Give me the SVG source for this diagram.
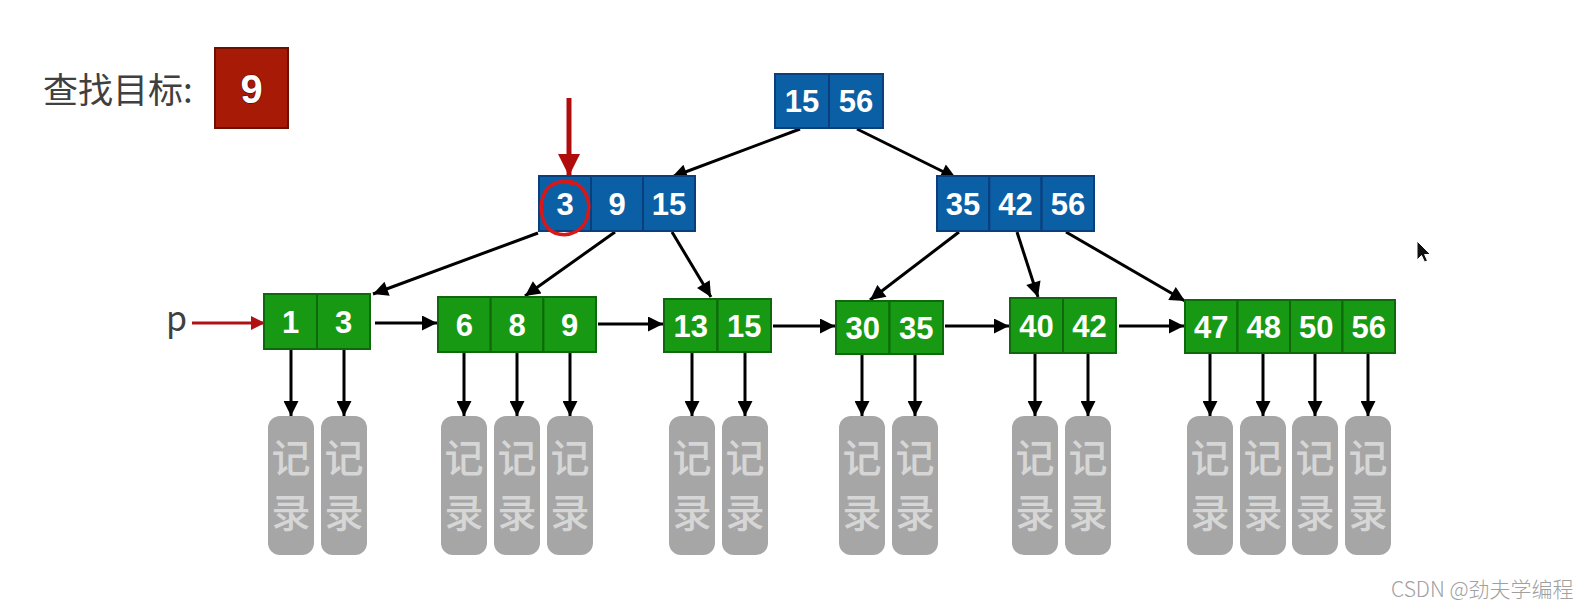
<svg xmlns="http://www.w3.org/2000/svg" width="1592" height="609" viewBox="0 0 1592 609">
<defs>
<style>
.bc{fill:#0b5fa5;stroke:#0a3e7c;stroke-width:2}
.gc{fill:#179913;stroke:#0d690b;stroke-width:2}
.num{font-family:"Liberation Sans",Arial,sans-serif;font-weight:bold;font-size:31px;fill:#fff;text-anchor:middle}
.rec rect{fill:#a6a6a6}
.rec text{font-family:"Noto Sans CJK SC",sans-serif;font-size:39px;font-weight:500;fill:#d6d6d6;text-anchor:middle}
.edge{stroke:#000;stroke-width:3;fill:none;marker-end:url(#ah)}
.lbl{font-family:"Noto Sans CJK SC",sans-serif;fill:#404040}
</style>
<marker id="ah" viewBox="0 0 10 10" refX="10" refY="5" markerUnits="userSpaceOnUse" markerWidth="16" markerHeight="15" orient="auto"><path d="M0,0 L10,5 L0,10 z" fill="#000"/></marker>
<marker id="rh" viewBox="0 0 10 10" refX="10" refY="5" markerUnits="userSpaceOnUse" markerWidth="16" markerHeight="14" orient="auto"><path d="M0,0 L10,5 L0,10 z" fill="#b01212"/></marker>
<marker id="rh2" viewBox="0 0 10 10" refX="10" refY="5" markerUnits="userSpaceOnUse" markerWidth="26" markerHeight="22" orient="auto"><path d="M0,0 L10,5 L0,10 z" fill="#b00c0c"/></marker>
</defs>
<rect width="1592" height="609" fill="#fff"/>

<g id="title">
<text class="lbl" x="43" y="103" font-size="35">查找目标:</text>
<rect x="215" y="48" width="73" height="80" fill="#a61a06" stroke="#6e1000" stroke-width="2"/>
<text x="251.5" y="102.5" font-family="Liberation Sans,Arial,sans-serif" font-weight="bold" font-size="40" fill="#fff" stroke="#5a0000" stroke-width="1.2" paint-order="stroke" text-anchor="middle">9</text>
</g>

<g id="connectors">
<line class="edge" x1="800" y1="129" x2="672" y2="177"/>
<line class="edge" x1="857" y1="129" x2="956" y2="178"/>
<line class="edge" x1="538" y1="233" x2="373" y2="294"/>
<line class="edge" x1="615" y1="232" x2="525" y2="296"/>
<line class="edge" x1="672" y1="232" x2="711" y2="297"/>
<line class="edge" x1="959" y1="232" x2="870" y2="300"/>
<line class="edge" x1="1017" y1="232" x2="1038" y2="297"/>
<line class="edge" x1="1066" y1="232" x2="1185" y2="301"/>
<line class="edge" x1="375" y1="323" x2="437" y2="323"/>
<line class="edge" x1="598" y1="324" x2="663" y2="324"/>
<line class="edge" x1="773" y1="326" x2="835" y2="326"/>
<line class="edge" x1="945" y1="326" x2="1009" y2="326"/>
<line class="edge" x1="1119" y1="326" x2="1184" y2="326"/>
<line class="edge" x1="291" y1="349" x2="291" y2="416"/>
<line class="edge" x1="344" y1="349" x2="344" y2="416"/>
<line class="edge" x1="464" y1="352" x2="464" y2="416"/>
<line class="edge" x1="517" y1="352" x2="517" y2="416"/>
<line class="edge" x1="570" y1="352" x2="570" y2="416"/>
<line class="edge" x1="692" y1="352" x2="692" y2="416"/>
<line class="edge" x1="745" y1="352" x2="745" y2="416"/>
<line class="edge" x1="862" y1="354" x2="862" y2="416"/>
<line class="edge" x1="915" y1="354" x2="915" y2="416"/>
<line class="edge" x1="1035" y1="353" x2="1035" y2="416"/>
<line class="edge" x1="1088" y1="353" x2="1088" y2="416"/>
<line class="edge" x1="1210" y1="353" x2="1210" y2="416"/>
<line class="edge" x1="1263" y1="353" x2="1263" y2="416"/>
<line class="edge" x1="1315" y1="353" x2="1315" y2="416"/>
<line class="edge" x1="1368" y1="353" x2="1368" y2="416"/>
<line x1="192" y1="323" x2="265" y2="323" stroke="#b01212" stroke-width="3" marker-end="url(#rh)"/>
<line x1="569" y1="98" x2="569" y2="176" stroke="#b00c0c" stroke-width="5" marker-end="url(#rh2)"/>
</g>

<g id="p-label"><text class="lbl" x="166" y="331" font-size="34" font-family="Liberation Sans,Arial,sans-serif" fill="#454545">p</text></g>

<g id="root">
<rect class="bc" x="775" y="74" width="54" height="54"/><rect class="bc" x="829" y="74" width="54" height="54"/>
<text class="num" x="802" y="112">15</text><text class="num" x="856" y="112">56</text>
</g>
<g id="inner-left">
<rect class="bc" x="539" y="176" width="52" height="55"/><rect class="bc" x="591" y="176" width="52" height="55"/><rect class="bc" x="643" y="176" width="52" height="55"/>
<text class="num" x="565" y="214.5">3</text><text class="num" x="617" y="214.5">9</text><text class="num" x="669" y="214.5">15</text>
</g>
<g id="inner-right">
<rect class="bc" x="937" y="176" width="52.3" height="55"/><rect class="bc" x="989.3" y="176" width="52.3" height="55"/><rect class="bc" x="1041.6" y="176" width="52.4" height="55"/>
<text class="num" x="963" y="214.5">35</text><text class="num" x="1015.5" y="214.5">42</text><text class="num" x="1068" y="214.5">56</text>
</g>

<g id="highlight">
<path d="M559 182 C579 177 592 195 588 214 C585 231 569 238 555 233 C542 228 538 208 544 194 C549 183 561 179 574 184" fill="none" stroke="#d81818" stroke-width="3.5"/>
</g>

<g id="leaf-1">
<rect class="gc" x="264" y="294" width="53" height="55"/><rect class="gc" x="317" y="294" width="53" height="55"/>
<text class="num" x="290.5" y="332.5">1</text><text class="num" x="343.5" y="332.5">3</text>
</g>
<g id="leaf-2">
<rect class="gc" x="438" y="297" width="52.7" height="55"/><rect class="gc" x="490.7" y="297" width="52.7" height="55"/><rect class="gc" x="543.4" y="297" width="52.6" height="55"/>
<text class="num" x="464.3" y="335.5">6</text><text class="num" x="517" y="335.5">8</text><text class="num" x="569.7" y="335.5">9</text>
</g>
<g id="leaf-3">
<rect class="gc" x="664" y="299" width="53.5" height="53"/><rect class="gc" x="717.5" y="299" width="53.5" height="53"/>
<text class="num" x="690.75" y="336.5">13</text><text class="num" x="744.25" y="336.5">15</text>
</g>
<g id="leaf-4">
<rect class="gc" x="836" y="301" width="53.5" height="53"/><rect class="gc" x="889.5" y="301" width="53.5" height="53"/>
<text class="num" x="862.75" y="338.5">30</text><text class="num" x="916.25" y="338.5">35</text>
</g>
<g id="leaf-5">
<rect class="gc" x="1010" y="298" width="53" height="55"/><rect class="gc" x="1063" y="298" width="53" height="55"/>
<text class="num" x="1036.5" y="336.5">40</text><text class="num" x="1089.5" y="336.5">42</text>
</g>
<g id="leaf-6">
<rect class="gc" x="1185" y="300" width="52.5" height="53"/><rect class="gc" x="1237.5" y="300" width="52.5" height="53"/><rect class="gc" x="1290" y="300" width="52.5" height="53"/><rect class="gc" x="1342.5" y="300" width="52.5" height="53"/>
<text class="num" x="1211.25" y="337.5">47</text><text class="num" x="1263.75" y="337.5">48</text><text class="num" x="1316.25" y="337.5">50</text><text class="num" x="1368.75" y="337.5">56</text>
</g>

<g id="records" class="rec">
<g id="r1"><rect x="268" y="416" width="46" height="139" rx="12"/><text x="291" y="472">记</text><text x="291" y="527">录</text></g>
<g id="r2"><rect x="321" y="416" width="46" height="139" rx="12"/><text x="344" y="472">记</text><text x="344" y="527">录</text></g>
<g id="r3"><rect x="441" y="416" width="46" height="139" rx="12"/><text x="464" y="472">记</text><text x="464" y="527">录</text></g>
<g id="r4"><rect x="494" y="416" width="46" height="139" rx="12"/><text x="517" y="472">记</text><text x="517" y="527">录</text></g>
<g id="r5"><rect x="547" y="416" width="46" height="139" rx="12"/><text x="570" y="472">记</text><text x="570" y="527">录</text></g>
<g id="r6"><rect x="669" y="416" width="46" height="139" rx="12"/><text x="692" y="472">记</text><text x="692" y="527">录</text></g>
<g id="r7"><rect x="722" y="416" width="46" height="139" rx="12"/><text x="745" y="472">记</text><text x="745" y="527">录</text></g>
<g id="r8"><rect x="839" y="416" width="46" height="139" rx="12"/><text x="862" y="472">记</text><text x="862" y="527">录</text></g>
<g id="r9"><rect x="892" y="416" width="46" height="139" rx="12"/><text x="915" y="472">记</text><text x="915" y="527">录</text></g>
<g id="r10"><rect x="1012" y="416" width="46" height="139" rx="12"/><text x="1035" y="472">记</text><text x="1035" y="527">录</text></g>
<g id="r11"><rect x="1065" y="416" width="46" height="139" rx="12"/><text x="1088" y="472">记</text><text x="1088" y="527">录</text></g>
<g id="r12"><rect x="1187" y="416" width="46" height="139" rx="12"/><text x="1210" y="472">记</text><text x="1210" y="527">录</text></g>
<g id="r13"><rect x="1240" y="416" width="46" height="139" rx="12"/><text x="1263" y="472">记</text><text x="1263" y="527">录</text></g>
<g id="r14"><rect x="1292" y="416" width="46" height="139" rx="12"/><text x="1315" y="472">记</text><text x="1315" y="527">录</text></g>
<g id="r15"><rect x="1345" y="416" width="46" height="139" rx="12"/><text x="1368" y="472">记</text><text x="1368" y="527">录</text></g>
</g>

<g id="cursor"><path d="M1417,241 L1417,260 L1421.5,255.5 L1424.5,262 L1427.5,260.8 L1424.6,254.5 L1430.5,254.5 Z" fill="#111" stroke="#fff" stroke-width="1"/></g>

<g id="watermark"><text x="1391" y="597" font-family="Noto Sans CJK SC,sans-serif" font-weight="300" font-size="21" fill="#a0a0a0">CSDN @劲夫学编程</text></g>
</svg>
